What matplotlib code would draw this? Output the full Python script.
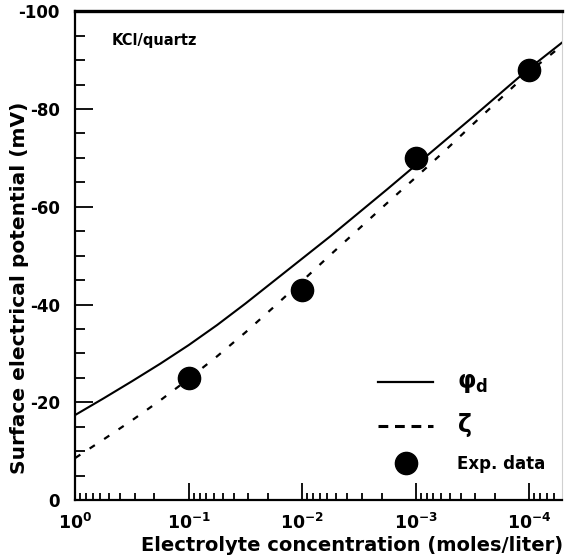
"""Surface electrical potential vs. electrolyte concentration for KCl/quartz."""

import matplotlib
matplotlib.use("Agg")
import matplotlib.pyplot as plt
import matplotlib.lines as mlines
from matplotlib.ticker import FixedLocator, LogLocator, NullFormatter, MultipleLocator
import numpy as np

plt.rcParams["font.family"] = ["DejaVu Sans"]
plt.rcParams["font.weight"] = "bold"
plt.rcParams["axes.unicode_minus"] = False
plt.rcParams["mathtext.fontset"] = "custom"
plt.rcParams["mathtext.rm"] = "DejaVu Sans:bold"
plt.rcParams["mathtext.bf"] = "DejaVu Sans:bold"
plt.rcParams["mathtext.it"] = "DejaVu Sans:bold"

# model curves, read at log10(concentration) steps
log_conc = [0.0, -0.25, -0.5, -0.75, -1.0, -1.25, -1.5, -1.75, -2.0,
            -2.25, -2.5, -2.75, -3.0, -3.25, -3.5, -3.75, -4.0, -4.29]
phi_d = [-17.4, -20.8, -24.3, -27.9, -31.7, -35.8, -40.2, -44.8, -49.4,
         -54.0, -58.8, -63.6, -68.5, -73.4, -78.3, -83.3, -88.3, -93.6]
zeta = [-8.6, -12.4, -16.3, -20.4, -24.8, -29.4, -34.3, -39.5, -44.8,
        -50.2, -55.5, -60.8, -66.0, -71.3, -76.8, -82.2, -87.6, -93.0]

# experimental points
exp_conc = [1e-1, 1e-2, 1e-3, 1e-4]
exp_pot = [-25, -43, -70, -88]

xtick_vals = [1e0, 1e-1, 1e-2, 1e-3, 1e-4]
xtick_labels = [r"$\mathbf{10^{0}}$", r"$\mathbf{10^{-1}}$", r"$\mathbf{10^{-2}}$",
                r"$\mathbf{10^{-3}}$", r"$\mathbf{10^{-4}}$"]
ytick_vals = [0, -20, -40, -60, -80, -100]

conc = 10.0 ** np.array(log_conc)

fig = plt.figure(figsize=(5.65, 5.6), dpi=100)
ax = fig.add_axes([0.133, 0.107, 0.862, 0.873])

ax.plot(conc, phi_d, color="black", linewidth=1.5)
ax.plot(conc, zeta, color="black", linewidth=1.6, linestyle=(0, (2.8, 5.0)))
ax.plot(exp_conc, exp_pot, linestyle="none", marker="o", markersize=16,
        color="black")

ax.set_xscale("log")
ax.set_xlim(1e0, 10 ** -4.29)
ax.set_ylim(0, -100)

ax.xaxis.set_major_locator(FixedLocator(xtick_vals))
ax.set_xticklabels(xtick_labels, fontsize=12.5)
ax.xaxis.set_minor_locator(LogLocator(base=10, subs=np.arange(2, 10)))
ax.xaxis.set_minor_formatter(NullFormatter())
ax.set_yticks(ytick_vals)
ax.set_yticklabels([str(v) for v in ytick_vals], fontsize=12)
ax.yaxis.set_minor_locator(MultipleLocator(5))

ax.tick_params(axis="both", which="both", direction="in", color="black",
               width=1.3, top=False, right=False)
ax.tick_params(axis="y", which="major", length=13, pad=11)
ax.tick_params(axis="y", which="minor", length=7)
ax.tick_params(axis="x", which="major", length=12, pad=9)
ax.tick_params(axis="x", which="minor", length=5)

for side in ("left", "bottom"):
    ax.spines[side].set_linewidth(1.6)
ax.spines["top"].set_linewidth(2.4)
ax.spines["right"].set_color("#d0d0d0")
ax.spines["right"].set_linewidth(0.8)

ax.set_xlabel("Electrolyte concentration (moles/liter)", fontsize=14,
              fontweight="bold")
ax.xaxis.set_label_coords(0.569, -0.074)
ax.set_ylabel("Surface electrical potential (mV)", fontsize=14.5,
              fontweight="bold")
ax.yaxis.set_label_coords(-0.094, 0.434)

ax.text(0.075, 0.94, "KCl/quartz", transform=ax.transAxes, fontsize=10.5,
        fontweight="bold", ha="left", va="center")

# legend glyphs: the dashed key uses longer dashes than the curve
handles = [
    mlines.Line2D([], [], color="black", linewidth=1.6),
    mlines.Line2D([], [], color="black", linewidth=2.2, linestyle=(0, (3.2, 2.2))),
    mlines.Line2D([], [], color="black", linestyle="none", marker="o", markersize=16),
]
labels = [r"$\varphi_{d}$", r"$\zeta$", "Exp. data"]
leg = ax.legend(handles, labels, loc="lower right", bbox_to_anchor=(0.985, 0.035),
                frameon=False, fontsize=12, handlelength=3.3, handletextpad=1.4,
                labelspacing=0.95, borderaxespad=0.2)
for t in leg.get_texts():
    t.set_fontweight("bold")
leg.get_texts()[0].set_fontsize(17)
leg.get_texts()[1].set_fontsize(17)

fig.savefig("out.png", dpi=100)
